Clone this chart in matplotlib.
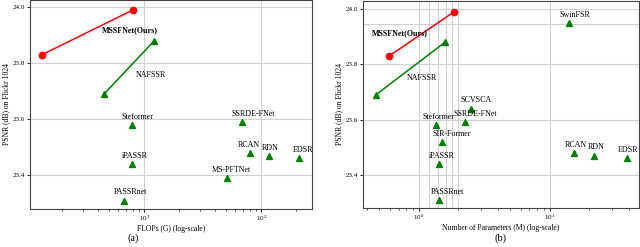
import matplotlib.pyplot as plt

plt.rcParams['font.family'] = ['Liberation Serif', 'DejaVu Serif']

# PSNR values shared by both panels
ours_psnr = [23.83, 23.99]
naf_psnr = [23.69, 23.88]

# panel (a): FLOPs (G)
ours_flops = [1.34, 8.05]
naf_flops = [4.55, 12.2]
names_a = ['Steformer', 'iPASSR', 'PASSRnet', 'MS-PFTNet', 'SSRDE-FNet', 'RCAN', 'RDN', 'EDSR']
flops_a = [7.9, 7.9, 6.7, 51, 69, 80.5, 117, 210]
psnr_a = [23.58, 23.44, 23.31, 23.39, 23.59, 23.48, 23.47, 23.46]

# panel (b): parameters (M)
ours_params = [0.59, 1.85]
naf_params = [0.47, 1.58]
names_b = ['SwinFSR', 'SCVSCA', 'SSRDE-FNet', 'Steformer', 'SIR-Former', 'iPASSR', 'PASSRnet', 'RCAN', 'RDN', 'EDSR']
params_b = [14.0, 2.49, 2.24, 1.35, 1.5, 1.42, 1.42, 15.2, 21.7, 38.7]
psnr_b = [23.95, 23.64, 23.59, 23.58, 23.52, 23.44, 23.31, 23.48, 23.47, 23.46]

# label offsets in points (dx, dy)
offs_a = {'Steformer': (4, 3), 'iPASSR': (2, 3), 'PASSRnet': (5, 3), 'MS-PFTNet': (3, 3),
          'SSRDE-FNet': (8, 3), 'RCAN': (-1, 3), 'RDN': (1, 3), 'EDSR': (3, 3)}
offs_b = {'SwinFSR': (4, 3), 'SCVSCA': (4, 3), 'SSRDE-FNet': (8, 3), 'Steformer': (2, 3),
          'SIR-Former': (7, 3), 'iPASSR': (2, 3), 'PASSRnet': (6, 3), 'RCAN': (2, 3),
          'RDN': (2, 3), 'EDSR': (1, 3)}

fig = plt.figure(figsize=(6.4, 2.47), dpi=100)
ax1 = fig.add_axes([0.047, 0.154, 0.441, 0.846])
ax2 = fig.add_axes([0.567, 0.158, 0.431, 0.838])

grid_kw = dict(color='#d0d0d0', lw=0.8, zorder=0)
fs = 5.8


def draw(ax, ours_x, naf_x, xs, ys, names, offs):
    ax.plot(ours_x, ours_psnr, color='red', lw=1.1, marker='o', ms=4.5, zorder=3)
    ax.plot(naf_x, naf_psnr, color='green', lw=1.1, marker='^', ms=4.5, zorder=3)
    ax.scatter(xs, ys, marker='^', color='green', s=18, zorder=3)
    for n, x, y in zip(names, xs, ys):
        dx, dy = offs[n]
        ax.annotate(n, (x, y), xytext=(dx, dy), textcoords='offset points',
                    ha='center', va='bottom', fontsize=fs)
    ax.set_xscale('log')
    ax.set_yticks([23.4, 23.6, 23.8, 24.0])
    ax.set_yticklabels(['23.4', '23.6', '23.8', '24.0'])
    ax.grid(True, which='major', **grid_kw)
    ax.tick_params(labelsize=5, length=2, width=0.6, pad=1.5)
    ax.tick_params(which='minor', length=1.5, width=0.5)
    ax.set_ylabel('PSNR (dB) on Flickr 1024', fontsize=5.5, labelpad=2)
    for s in ax.spines.values():
        s.set_color('#444444')
        s.set_linewidth(0.8)


draw(ax1, ours_flops, naf_flops, flops_a, psnr_a, names_a, offs_a)
ax1.set_xlim(1.06, 273)
ax1.set_ylim(23.28, 24.025)
ax1.set_xlabel('FLOPs (G) (log-scale)', fontsize=5.5, labelpad=1.5)
ax1.text(7.6, 23.918, 'MSSFNet(Ours)', fontsize=fs, fontweight='bold', ha='center', va='center')
ax1.text(11.5, 23.757, 'NAFSSR', fontsize=fs, ha='center', va='center')

draw(ax2, ours_params, naf_params, params_b, psnr_b, names_b, offs_b)
ax2.set_xlim(0.374, 47.8)
ax2.set_ylim(23.28, 24.03)
# extra grid lines drawn in the original around the small models
for gx in [1.2, 1.4, 1.6, 1.8, 2.0]:
    ax2.axvline(gx, **grid_kw)
ax2.axhline(23.945, **grid_kw)
ax2.set_xlabel('Number of Parameters (M) (log-scale)', fontsize=5.5, labelpad=1.5)
ax2.text(0.438, 23.912, 'MSSFNet(Ours)', fontsize=fs, fontweight='bold', ha='left', va='center')
ax2.text(1.05, 23.75, 'NAFSSR', fontsize=fs, ha='center', va='center')

fig.text(0.208, 0.036, '(a)', fontsize=7.5, ha='center', va='center')
fig.text(0.782, 0.036, '(b)', fontsize=7.5, ha='center', va='center')

fig.savefig('out.png', dpi=100)
